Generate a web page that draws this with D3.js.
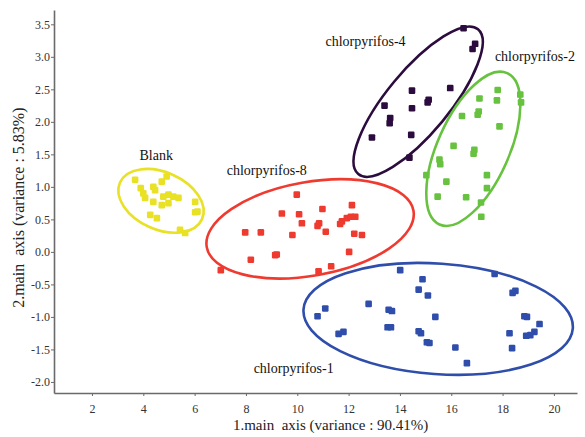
<!DOCTYPE html>
<html>
<head>
<meta charset="utf-8">
<title>PCA chlorpyrifos</title>
<script src="https://d3js.org/d3.v7.min.js"></script>
<style>
  body { margin: 0; background: #fff; }
  text { font-family: "Liberation Serif", "DejaVu Serif", serif; }
</style>
</head>
<body>
<div id="chart"></div>
<script>
// groups, in drawing order
const groups = ["Blank", "chlorpyrifos-8", "chlorpyrifos-4", "chlorpyrifos-2", "chlorpyrifos-1"];
const colors = ["#e9e124", "#ef3a30", "#2c0c3e", "#67c23f", "#2f4dab"];

// scores: [axis1, axis2]
const blank = [[3.68,1.11],[3.90,0.98],[4.00,0.90],[4.39,1.00],[4.46,0.95],[4.72,1.08],[4.91,1.16],
  [4.07,0.83],[4.39,0.77],[4.78,0.85],[4.98,0.88],[5.17,0.85],[5.37,0.83],[4.72,0.72],[4.98,0.75],
  [4.27,0.57],[4.53,0.52],[6.02,0.77],[6.11,0.62],[6.02,0.61],[5.43,0.34],[5.63,0.29]];
const cpf8 = [[9.98,0.88],[9.40,0.59],[10.07,0.58],[10.98,0.66],[12.13,0.72],[10.18,0.44],[10.85,0.44],
  [10.79,0.40],[11.74,0.47],[11.67,0.43],[11.93,0.52],[12.09,0.54],[12.26,0.54],[7.97,0.30],[8.58,0.30],
  [9.81,0.26],[11.11,0.31],[12.22,0.28],[12.52,0.26],[9.14,-0.05],[9.20,-0.04],[8.19,-0.12],[12.02,0.00],
  [11.32,-0.22],[10.83,-0.30],[7.02,-0.28]];
const cpf4 = [[16.48,3.44],[16.93,3.20],[16.83,3.12],[14.47,2.48],[14.47,2.21],[15.12,2.34],[15.08,2.30],
  [15.96,2.52],[13.40,2.25],[13.62,2.06],[13.60,1.98],[12.91,1.76],[14.44,1.80],[14.37,1.45]];
const cpf2 = [[17.81,2.49],[17.78,2.33],[17.10,2.36],[18.69,2.42],[18.72,2.30],[16.42,2.09],[17.07,2.16],
  [17.03,2.11],[17.88,1.93],[16.09,1.63],[16.90,1.57],[16.87,1.51],[15.54,1.42],[15.57,1.35],[15.03,1.18],
  [15.81,1.08],[17.39,1.18],[17.39,0.98],[15.47,0.85],[16.58,0.84],[17.16,0.76],[17.17,0.54]];
const cpf1 = [[14.01,-0.28],[14.88,-0.42],[14.73,-0.58],[15.09,-0.67],[17.69,-0.34],[18.50,-0.60],[18.39,-0.63],
  [11.09,-0.87],[10.79,-0.99],[12.78,-0.80],[13.56,-0.89],[13.69,-0.91],[15.38,-1.00],[18.85,-0.99],[18.95,-1.00],
  [11.80,-1.23],[11.61,-1.26],[13.52,-1.16],[13.65,-1.16],[14.73,-1.22],[14.82,-1.25],[15.05,-1.39],[15.15,-1.40],
  [16.16,-1.47],[16.61,-1.71],[18.27,-1.25],[18.37,-1.48],[19.44,-1.11],[19.24,-1.23],[18.92,-1.29],[19.08,-1.28]];
const points = [blank, cpf8, cpf4, cpf2, cpf1];

// confidence ellipses: centre x, centre y, half width (x units), half height (y units), tilt deg
const ellCx = [4.69, 10.50, 14.71, 16.86, 15.49];
const ellCy = [0.785, 0.354, 2.31, 1.585, -1.03];
const ellRx = [1.75, 4.09, 3.66, 3.23, 5.26];
const ellRy = [0.44, 0.72, 0.48, 0.55, 0.85];
const ellRot = [24, -10, -50.4, -65.9, 4];

// group label anchors (data coords)
const labX = [3.85, 7.25, 11.1, 17.7, 8.3];
const labY = [1.42, 1.18, 3.17, 2.93, -1.86];

const xTicks = [2, 4, 6, 8, 10, 12, 14, 16, 18, 20];
const yTicks = [-2.0, -1.5, -1.0, -0.5, 0.0, 0.5, 1.0, 1.5, 2.0, 2.5, 3.0, 3.5];

const W = 585, H = 437;
const margin = { top: 10, right: 8, bottom: 44, left: 54 };
const width = W - margin.left - margin.right,
      height = H - margin.top - margin.bottom;

const svg = d3.select("#chart").append("svg")
    .attr("width", W)
    .attr("height", H);
const g = svg.append("g")
    .attr("transform", "translate(" + margin.left + "," + margin.top + ")");

const x = d3.scaleLinear().domain([0.52, 20.9]).range([0, width]);
const y = d3.scaleLinear().domain([-2.17, 3.72]).range([height, 0]);

// axes
const xAxis = g.append("g")
    .attr("transform", "translate(0," + height + ")")
    .call(d3.axisBottom(x).tickValues(xTicks).tickSize(3).tickSizeOuter(0).tickFormat(d => d));
const yAxis = g.append("g")
    .call(d3.axisLeft(y).tickValues(yTicks).tickSize(3).tickSizeOuter(0).tickFormat(d => d.toFixed(1)));
[xAxis, yAxis].forEach(a => {
  a.attr("font-family", "Liberation Serif").attr("font-size", 12);
  a.select(".domain").attr("stroke", "#6a6a6a").attr("stroke-width", 1.6);
  a.selectAll(".tick line").attr("stroke", "#6a6a6a");
  a.selectAll(".tick text").attr("fill", "#333");
});
xAxis.selectAll(".tick text").attr("dy", "1.15em");
yAxis.selectAll(".tick text").attr("x", -4);

// axis titles
svg.append("text")
    .attr("x", margin.left + x(11.3)).attr("y", 430)
    .attr("text-anchor", "middle")
    .style("font-size", "15px").style("white-space", "pre").attr("fill", "#222")
    .text("1.main  axis (variance : 90.41%)");
svg.append("text")
    .attr("transform", "translate(24," + (margin.top + y(0.68)) + ") rotate(-90)")
    .attr("text-anchor", "middle")
    .style("font-size", "16px").style("white-space", "pre").attr("fill", "#222")
    .text("2.main  axis (variance : 5.83%)");

// ellipses
groups.forEach((name, i) => {
  const rx = x(ellCx[i] + ellRx[i]) - x(ellCx[i]);
  const ry = y(ellCy[i]) - y(ellCy[i] + ellRy[i]);
  g.append("ellipse")
      .attr("transform", "translate(" + x(ellCx[i]) + "," + y(ellCy[i]) + ") rotate(" + ellRot[i] + ")")
      .attr("rx", rx).attr("ry", ry)
      .attr("fill", "none")
      .attr("stroke", colors[i])
      .attr("stroke-width", 2.6);
});

// points
groups.forEach((name, i) => {
  g.selectAll(".pt" + i)
    .data(points[i]).enter()
    .append("rect")
      .attr("class", "pt" + i)
      .attr("x", d => x(d[0]) - 3.3)
      .attr("y", d => y(d[1]) - 3.3)
      .attr("width", 6.6).attr("height", 6.6)
      .attr("rx", 1.2)
      .attr("fill", colors[i]);
});

// labels
g.selectAll(".lab")
  .data(groups).enter()
  .append("text")
    .attr("class", "lab")
    .attr("x", (d, i) => x(labX[i]))
    .attr("y", (d, i) => y(labY[i]))
    .style("font-size", "14px")
    .attr("fill", "#111")
    .text(d => d);
</script>
</body>
</html>
